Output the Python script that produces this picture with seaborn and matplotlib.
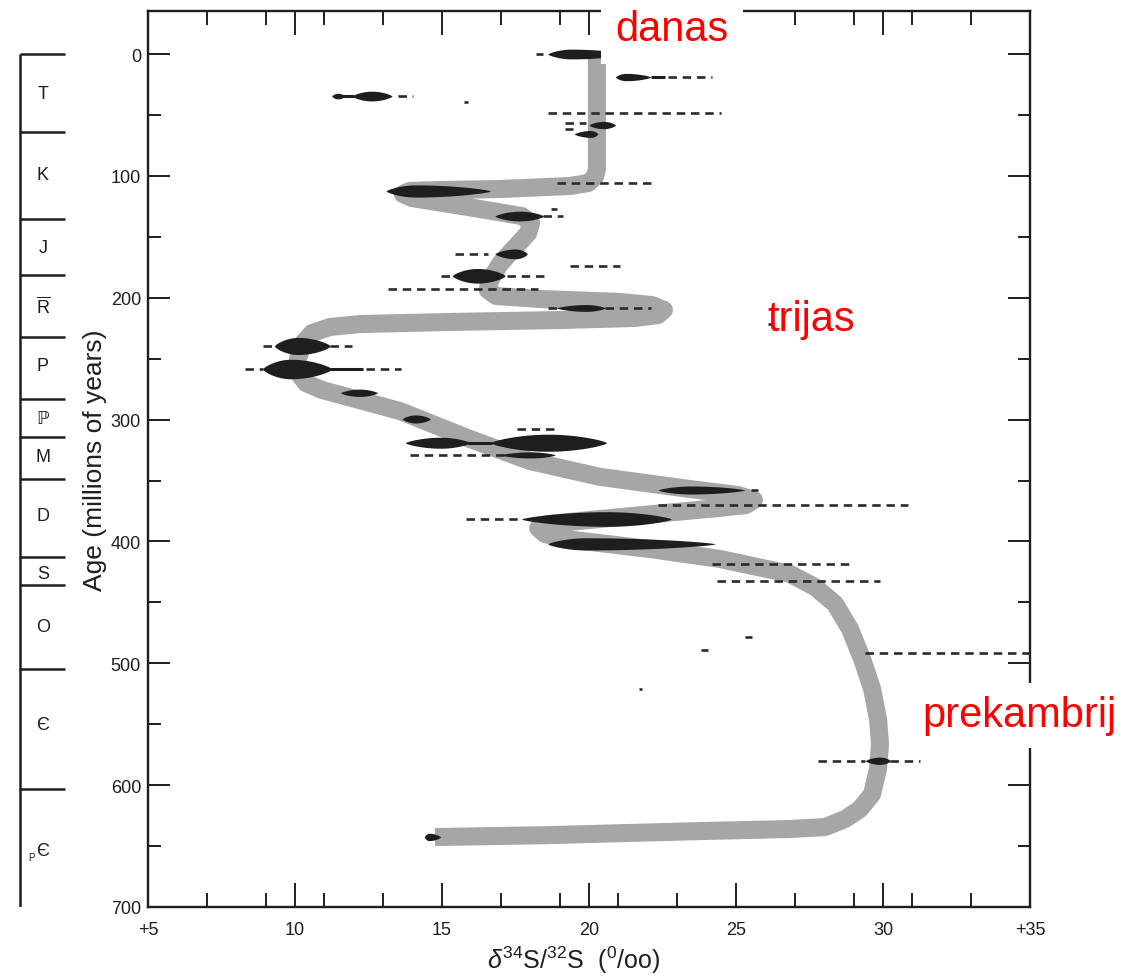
import numpy as np
import pandas as pd
import matplotlib
matplotlib.use("Agg")
import matplotlib.pyplot as plt
import seaborn as sns
from matplotlib.ticker import FixedLocator

# ---------------- data ----------------
# smoothed seawater sulfate curve (delta34S per mil, age Ma)
curve_d34s = [20.27, 20.27, 20.2, 19.97, 19.35, 16.97, 14.93, 13.9, 13.67, 13.98, 16.3, 17.72,
              18.03, 17.93, 17.59, 16.97, 16.6, 16.56, 16.84, 18.33, 21.05, 22.14, 22.55, 22.35,
              21.56, 19.01, 15.27, 12.21, 11.19, 10.58, 10.27, 10.1, 10.14, 10.37, 10.92, 13.57,
              15.95, 17.99, 20.37, 23.43, 25.07, 25.61, 25.34, 24.39, 20.37, 18.6, 18.27, 18.5,
              19.18, 22.07, 24.46, 26.84, 27.69, 28.37, 28.88, 29.29, 29.63, 29.83, 29.9, 29.83,
              29.63, 29.22, 28.71, 28.03, 26.84, 23.78, 18.67, 14.76]
curve_age = [2.5, 94.4, 101, 105.9, 108.3, 110.8, 111.6, 112.4, 114.9, 118.2, 127.2, 133,
             138.7, 146.9, 155.9, 172.3, 187.1, 193.7, 198.6, 201, 203.5, 206, 210, 214.2,
             216.6, 218.3, 219.9, 221.6, 224, 229, 237.2, 250.3, 262.6, 270, 275.7, 293,
             315.9, 334, 347, 357, 361.9, 366, 370.1, 372.6, 381.6, 385.7, 389, 393.9,
             398, 406.2, 414.4, 426.7, 437.4, 451.3, 471.9, 496.5, 521.1, 545.7, 566.2, 586.7,
             607.3, 619.6, 627.8, 634.4, 636, 637.7, 641, 642.6]

# black spindles (measured evaporite ranges)
blob_age = [0, 18.9, 34.5, 34.5, 58.3, 65.6, 112.4, 133, 164, 182, 208.4, 239.6, 258.5,
            278, 299.5, 319, 319, 329, 357.8, 381.6, 402, 580, 642.5]
blob_left = [18.6, 20.9, 11.25, 11.95, 20.0, 19.5, 13.1, 16.8, 16.8, 15.35, 18.9, 9.3, 8.9,
             11.55, 13.65, 13.75, 16.65, 17.0, 22.35, 17.7, 18.6, 29.4, 14.4]
blob_peak = [19.4, 21.25, 11.45, 12.6, 20.5, 20.05, 14.1, 17.65, 17.5, 16.2, 19.9, 10.1, 9.85,
             12.2, 14.1, 14.95, 18.6, 18.0, 23.45, 20.6, 19.9, 29.9, 14.55]
blob_right = [21.3, 22.1, 11.7, 13.3, 20.9, 20.3, 16.65, 18.45, 17.9, 17.15, 20.55, 11.2, 11.25,
              12.8, 14.6, 15.95, 20.6, 18.85, 25.3, 22.8, 24.3, 30.25, 14.95]
blob_half = [4.0, 3.0, 2.3, 4.0, 3.0, 2.8, 5.0, 4.0, 4.0, 6.0, 2.8, 7.0, 8.0,
             3.0, 3.3, 4.5, 7.0, 2.5, 3.3, 6.0, 5.0, 3.0, 3.0]

# thin solid tails
tail_age = [18.9, 34.5, 258.5, 319]
tail_x0 = [22.1, 11.6, 11.2, 15.9]
tail_x1 = [22.6, 12.0, 12.3, 16.7]

# dashed extreme-value ranges
dash_age = [0, 18.9, 34.5, 39.4, 48, 56.6, 61.5, 106, 127, 133, 164, 174, 182, 182, 193,
            208.4, 221.6, 239.6, 239.6, 258.5, 258.5, 307.7, 319, 329, 357.8, 370, 381.6,
            418.5, 432.5, 478.4, 489, 491.5, 521, 580, 580]
dash_x0 = [18.2, 22.7, 13.5, 15.75, 18.6, 19.2, 19.2, 18.9, 18.7, 18.45, 15.45, 19.35, 14.95, 17.2,
           13.15, 18.6, 26.1, 8.9, 11.2, 8.3, 12.4, 17.55, 15.9, 13.9, 25.5, 22.35, 15.8,
           24.2, 24.35, 25.3, 23.8, 29.4, 21.7, 27.8, 30.25]
dash_x1 = [18.45, 24.2, 14.0, 15.9, 24.5, 19.9, 19.45, 22.1, 18.9, 19.1, 16.55, 21.05, 15.35, 18.5,
           18.25, 22.1, 26.25, 9.25, 11.95, 8.9, 13.6, 18.8, 16.65, 18.7, 25.75, 30.85, 17.65,
           28.9, 29.9, 25.55, 24.05, 35.0, 21.8, 29.4, 31.25]

# geological periods (boundary ages, label ages, labels)
period_bounds = [0, 64, 135, 181, 232, 283, 314, 349, 413, 436, 505, 603]
period_label_age = [32, 98.5, 158.4, 206.8, 256, 299.5, 330.7, 379, 426, 469.4, 550.6, 654]
period_labels = ["T", "K", "J", r"$\overline{\mathrm{R}}$", "P", "\u2119", "M", "D", "S", "O",
                 "\u0404", "\u0404"]
period_prefix = ["", "", "", "", "", "", "", "", "", "", "", "P"]

xticks_major = [5, 10, 15, 20, 25, 30, 35]
xtick_labels = ["+5", "10", "15", "20", "25", "30", "+35"]
xticks_minor = [7, 9, 11, 13, 17, 19, 21, 23, 27, 29, 31, 33]
yticks_major = [0, 100, 200, 300, 400, 500, 600, 700]
yticks_minor = [50, 150, 250, 350, 450, 550, 650]

# ---------------- style ----------------
sns.set_theme(style="ticks")
plt.rcParams["font.family"] = ["Liberation Sans", "DejaVu Sans"]
plt.rcParams["mathtext.fontset"] = "custom"
plt.rcParams["mathtext.rm"] = "Liberation Sans"
plt.rcParams["mathtext.it"] = "Liberation Sans:italic"
plt.rcParams["mathtext.bf"] = "Liberation Sans:bold"

W, H = 1135, 978
fig = plt.figure(figsize=(W / 100, H / 100), dpi=100)
fig.patch.set_facecolor("white")

ax_l, ax_r, ax_t, ax_b = 148, 1030, 12, 908
ax = fig.add_axes([ax_l / W, 1 - ax_b / H, (ax_r - ax_l) / W, (ax_b - ax_t) / H])
ax.set_facecolor("white")

ink = "#1e1e1e"

# main smoothed band
df = pd.DataFrame({"d34s": curve_d34s, "age": curve_age})
sns.lineplot(data=df, x="d34s", y="age", sort=False, estimator=None, ax=ax,
             color="#a6a6a6", lw=13, solid_joinstyle="round", solid_capstyle="butt",
             zorder=2)

# dashed ranges
ax.hlines(dash_age, dash_x0, dash_x1, colors="#2a2a2a", linestyles=(0, (3.2, 2.2)),
          lw=1.9, zorder=3)
# tails
ax.hlines(tail_age, tail_x0, tail_x1, colors=ink, lw=2.2, zorder=3)

# spindles
for a, l, p, r, h in zip(blob_age, blob_left, blob_peak, blob_right, blob_half):
    xl = np.linspace(l, p, 50)
    xr = np.linspace(p, r, 50)[1:]
    hl = h * np.sin((xl - l) / (p - l) * np.pi / 2) ** 0.7
    hr = h * np.sin((r - xr) / (r - p) * np.pi / 2) ** 0.7
    xs = np.concatenate([xl, xr])
    hs = np.concatenate([hl, hr])
    ax.fill_between(xs, a - hs, a + hs, color=ink, lw=0, zorder=4)

ax.set_xlim(5, 35)
ax.set_ylim(700, -35.3)

ax.xaxis.set_major_locator(FixedLocator(xticks_major))
ax.set_xticklabels(xtick_labels)
ax.xaxis.set_minor_locator(FixedLocator(xticks_minor))
ax.yaxis.set_major_locator(FixedLocator(yticks_major))
ax.yaxis.set_minor_locator(FixedLocator(yticks_minor))

ax.tick_params(which="both", direction="in", top=True, right=True, colors=ink,
               labelsize=13, width=1.4)
ax.tick_params(axis="x", which="major", length=17, pad=10)
ax.tick_params(axis="x", which="minor", length=10)
ax.tick_params(axis="y", which="major", length=16, pad=5)
ax.tick_params(axis="y", which="minor", length=9)
for s in ax.spines.values():
    s.set_linewidth(1.7)
    s.set_color(ink)

ax.set_ylabel("Age (millions of years)", fontsize=19, color=ink)
ax.yaxis.set_label_coords(-0.046, 0.5)
ax.set_xlabel(r"$\delta^{34}$S/$^{32}$S  ($^{0}$/oo)", fontsize=18, color=ink)
ax.xaxis.set_label_coords(0.482, -0.041)

# period column
axp = fig.add_axes([0, 1 - ax_b / H, ax_l / W, (ax_b - ax_t) / H])
axp.set_xlim(0, ax_l)
axp.set_ylim(700, -35.3)
axp.axis("off")
axp.vlines(20, 0, 700, colors=ink, lw=1.8)
axp.hlines(period_bounds, 20, 65, colors=ink, lw=1.8)
for a, lab, pre in zip(period_label_age, period_labels, period_prefix):
    axp.text(43, a, lab, ha="center", va="center", fontsize=13, color=ink)
    if pre:
        axp.text(31, a + 5, pre, ha="center", va="center", fontsize=7, color=ink)

# red annotations
fig.text(672 / W, 1 - 30 / H, "danas", color="red", fontsize=30, ha="center", va="center",
         bbox=dict(boxstyle="square,pad=0.35", fc="white", ec="none"))
fig.text(811 / W, 1 - 320 / H, "trijas", color="red", fontsize=30, ha="center", va="center")
fig.text(1019 / W, 1 - 716 / H, "prekambrij", color="red", fontsize=30, ha="center",
         va="center", bbox=dict(boxstyle="square,pad=0.3", fc="white", ec="none"))

fig.savefig("out.png", dpi=100, facecolor="white")
